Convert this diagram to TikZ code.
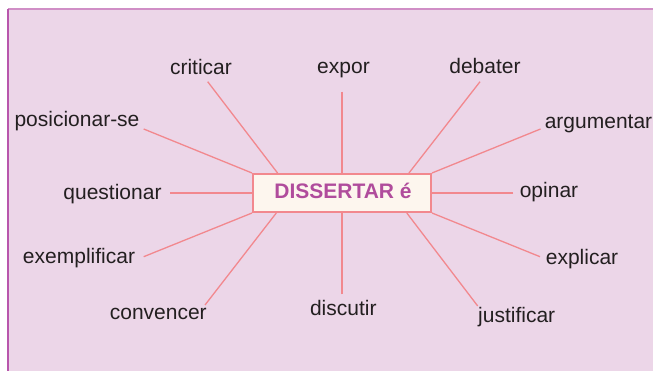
\documentclass[tikz,border=0pt]{standalone}
\usepackage{fontspec}
\setmainfont{Liberation Sans}
\usetikzlibrary{calc}
\definecolor{panel}{HTML}{ECD6E8}
\definecolor{topline}{HTML}{D08EC6}
\definecolor{leftline}{HTML}{B856AC}
\definecolor{linkc}{HTML}{F2888E}
\definecolor{boxfill}{HTML}{FDF6EE}
\definecolor{titlec}{HTML}{B04C9C}
\definecolor{textc}{HTML}{231F20}
\pgfdeclarelayer{bglayer}
\pgfdeclarelayer{linklayer}
\pgfsetlayers{bglayer,linklayer,main}
\tikzset{
  word/.style={anchor=base, inner sep=0pt, text=textc, font=\fontsize{21}{25}\selectfont},
  link/.style={draw=linkc, line width=1.3pt},
  centerbox/.style={draw=linkc, line width=2pt, fill=boxfill, minimum width=178pt, minimum height=38pt,
    inner sep=0pt, text height=15pt, text depth=4.4pt, text=titlec, font=\fontsize{21}{25}\selectfont\bfseries}
}
\begin{document}
\begin{tikzpicture}[x=1pt,y=-1pt]
\useasboundingbox (0,0) rectangle (653,371);
\begin{pgfonlayer}{bglayer}
\fill[panel] (8,9) rectangle (653,371);
\draw[topline, line width=1.2pt] (8,9) -- (653,9);
\draw[leftline, line width=1.2pt] (8,9) -- (8,371);
\end{pgfonlayer}

\node[centerbox] (c) at (342,193) {\hspace{2pt}DISSERTAR é};

\node[word] (criticar) at (201,75) {criticar};
\node[word] (expor) at (343.5,74) {expor};
\node[word] (debater) at (485,74) {debater};
\node[word] (posicionar) at (77,126.7) {posicionar-se};
\node[word] (argumentar) at (598.5,128.3) {argumentar};
\node[word] (questionar) at (112.5,199.3) {questionar};
\node[word] (opinar) at (549,197.7) {opinar};
\node[word] (exemplificar) at (79,263.3) {exemplificar};
\node[word] (explicar) at (582,264.3) {explicar};
\node[word] (convencer) at (158.3,319.3) {convencer};
\node[word] (discutir) at (343.3,315) {discutir};
\node[word] (justificar) at (516.7,322.7) {justificar};

\coordinate (e1) at (207.7,81.7);
\coordinate (e2) at (342,91.7);
\coordinate (e3) at (480,81.7);
\coordinate (e4) at (143.7,129);
\coordinate (e5) at (540.5,129);
\coordinate (e6) at (170,193);
\coordinate (e7) at (513.3,193);
\coordinate (e8) at (143.7,256.7);
\coordinate (e9) at (540,256.7);
\coordinate (e10) at (205,305);
\coordinate (e11) at (342,294.3);
\coordinate (e12) at (477.7,306);

\begin{pgfonlayer}{linklayer}
\draw[link] (e1) -- ($(c.north west)!0.142!(c.north east)$);
\draw[link] (e2) -- (c.north);
\draw[link] (e3) -- ($(c.north west)!0.872!(c.north east)$);
\draw[link] (e4) -- (c.north west);
\draw[link] (e5) -- (c.north east);
\draw[link] (e6) -- (c.west);
\draw[link] (e7) -- (c.east);
\draw[link] (e8) -- (c.south west);
\draw[link] (e9) -- (c.south east);
\draw[link] (e10) -- ($(c.south west)!0.135!(c.south east)$);
\draw[link] (e11) -- (c.south);
\draw[link] (e12) -- ($(c.south west)!0.86!(c.south east)$);
\end{pgfonlayer}
\end{tikzpicture}
\end{document}
